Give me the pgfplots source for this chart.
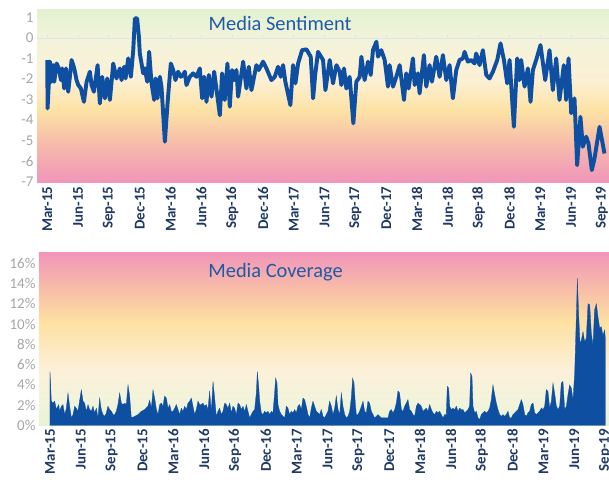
\documentclass[border=0pt]{standalone}
\usepackage{fontspec}
\setmainfont{Carlito}
\usepackage{pgfplots}
\pgfplotsset{compat=1.18}
\definecolor{pk}{HTML}{F095BA}
\definecolor{sal}{HTML}{F6B9AB}
\definecolor{yl}{HTML}{FDE2A4}
\definecolor{cr}{HTML}{FCF0D6}
\definecolor{cr2}{HTML}{F2F3DA}
\definecolor{gr}{HTML}{E3F1D1}
\definecolor{bgr}{HTML}{E8F3D4}
\definecolor{bcr2}{HTML}{F3F3DB}
\definecolor{bcr}{HTML}{FCF0D9}
\definecolor{byl}{HTML}{FDE1A2}
\definecolor{bsal}{HTML}{F8BFA7}
\definecolor{bpk}{HTML}{F196BA}
\definecolor{lineblue}{HTML}{0E4FA1}
\definecolor{titleblue}{HTML}{1F5AA6}
\definecolor{tickgray}{HTML}{A6A6A6}
\definecolor{navy}{HTML}{1F3864}
\definecolor{lightline}{HTML}{DCE6EA}
\pgfdeclareverticalshading{sentbg}{100bp}{color(0bp)=(pk); color(25bp)=(pk); color(36bp)=(sal); color(46bp)=(yl); color(55bp)=(cr); color(67bp)=(cr2); color(75bp)=(gr); color(100bp)=(gr)}
\pgfdeclareverticalshading{covbg}{100bp}{color(0bp)=(bgr); color(25bp)=(bgr); color(32.5bp)=(bcr2); color(41bp)=(bcr); color(55bp)=(byl); color(64bp)=(bsal); color(75bp)=(bpk); color(100bp)=(bpk)}
\pgfplotsset{
  common/.style={
    scale only axis,
    anchor=south west,
    axis line style={draw=none},
    major tick length=0pt,
    tick style={draw=none},
    xtick={0,3,...,54},
    xticklabels={Mar-15,Jun-15,Sep-15,Dec-15,Mar-16,Jun-16,Sep-16,Dec-16,Mar-17,Jun-17,Sep-17,Dec-17,Mar-18,Jun-18,Sep-18,Dec-18,Mar-19,Jun-19,Sep-19},
    xticklabel style={font=\fontsize{15}{15}\selectfont\bfseries, text=navy, rotate=90, anchor=east},
    yticklabel style={font=\fontsize{15}{15}\selectfont, text=tickgray},
    clip=false,
  }
}
\begin{document}
\begin{tikzpicture}
\useasboundingbox (0,0) rectangle (609bp,483bp);
\begin{axis}[common,
  at={(37bp,300bp)}, width=572bp, height=173bp,
  xmin=-1.0, xmax=54.69, ymin=-7.07, ymax=1.37,
  ytick={-7,-6,-5,-4,-3,-2,-1,0,1},
  yticklabels={-7,-6,-5,-4,-3,-2,-1,0,1},
  axis background/.style={shade, shading=sentbg},
]
\draw[lightline, line width=1bp] (axis cs:-1,0) -- (axis cs:54.69,0);
\pgfplotsinvokeforeach{0,3,...,54}{\draw[lightline, line width=1bp] (axis cs:#1,0) -- (axis cs:#1,0.17);}
\node[anchor=base west, text=titleblue, font=\fontsize{20.5}{20.5}\selectfont] at (rel axis cs:0.294,0.884) {Media Sentiment};
\addplot[color=lineblue, line width=3.9bp, line join=round, mark=none] coordinates {
(0.00,-1.07)(0.03,-3.43)(0.26,-1.15)(0.42,-2.13)(0.58,-1.32)(0.68,-2.13)(0.91,-1.24)(1.13,-1.48)(1.33,-2.05)(1.46,-1.48)(1.65,-2.46)(1.82,-1.48)(2.04,-2.62)(2.20,-1.89)(2.37,-1.07)(2.63,-1.48)(2.85,-2.05)(3.02,-2.29)(3.27,-2.46)(3.57,-3.11)(3.83,-2.13)(4.15,-1.64)(4.31,-2.29)(4.54,-2.62)(4.90,-1.32)(5.12,-3.19)(5.35,-1.89)(5.61,-2.94)(5.84,-1.97)(6.10,-3.02)(6.42,-1.24)(6.74,-1.97)(7.07,-1.48)(7.23,-2.05)(7.49,-1.40)(7.62,-1.97)(7.88,-0.99)(8.14,-1.89)(8.37,-0.59)(8.53,0.96)(8.75,0.96)(8.92,0.07)(9.01,-0.75)(9.34,-1.72)(9.50,-1.48)(9.73,-2.13)(9.92,-0.67)(10.15,-2.21)(10.41,-3.02)(10.54,-1.97)(10.73,-2.94)(10.96,-1.89)(11.12,-2.37)(11.45,-5.06)(11.71,-3.19)(11.84,-2.37)(12.03,-1.24)(12.26,-1.56)(12.48,-2.05)(12.74,-1.64)(13.00,-1.89)(13.23,-1.80)
(13.39,-1.64)(13.55,-2.29)(13.88,-1.89)(14.20,-1.72)(14.53,-1.89)(14.85,-1.48)(15.08,-2.94)(15.27,-1.89)(15.50,-3.11)(15.73,-1.80)(15.99,-2.86)(16.25,-1.64)(16.80,-3.76)(17.02,-1.72)(17.28,-3.02)(17.54,-1.24)(17.77,-3.35)(17.99,-1.56)(18.19,-2.05)(18.42,-1.56)(18.58,-2.86)(19.07,-1.15)(19.39,-2.46)(19.62,-1.40)(19.88,-2.54)(20.36,-1.32)(20.59,-1.56)(21.01,-1.15)(21.34,-1.48)(21.82,-2.05)(22.15,-1.89)(22.47,-1.40)(22.73,-1.89)(22.96,-1.32)(23.18,-2.13)(23.67,-3.27)(23.93,-1.32)(24.16,-2.21)(24.42,-1.24)(24.81,-0.59)(25.23,-0.55)(25.65,-0.91)(25.88,-2.94)(26.10,-1.72)(26.36,-0.67)(26.85,-1.07)
(27.08,-2.54)(27.50,-1.07)(27.82,-2.21)(28.15,-1.32)(28.47,-1.64)(28.63,-2.29)(28.89,-1.48)(29.12,-2.46)(29.44,-1.89)(29.80,-4.16)(30.09,-2.13)(30.42,-1.89)(30.58,-0.91)(30.90,-2.05)(31.23,-1.15)(31.49,-1.80)(31.71,-0.59)(32.04,-0.18)(32.20,-0.91)(32.52,-0.59)(32.85,-1.07)(33.17,-2.37)(33.33,-1.32)(33.66,-2.37)(33.98,-1.89)(34.31,-1.32)(34.73,-3.02)(34.95,-1.72)(35.18,-2.46)(35.60,-0.99)(35.77,-2.29)(36.09,-1.72)(36.25,-2.70)(36.67,-0.83)(36.90,-2.37)(37.22,-1.32)(37.45,-2.13)(37.87,-0.91)(38.20,-1.89)(38.52,-0.83)(38.85,-2.05)(39.17,-1.32)(39.49,-2.94)(39.82,-1.56)(40.14,-1.07)(40.47,-0.99)
(40.63,-0.67)(40.95,-1.15)(41.28,-1.07)(41.60,-1.24)(41.76,-0.75)(42.09,-1.32)(42.41,-0.59)(42.74,-1.80)(43.06,-1.97)(43.39,-1.64)(43.81,-1.07)(44.13,-0.26)(44.46,-1.07)(44.78,-2.21)(45.01,-1.07)(45.43,-4.33)(45.75,-0.99)(45.98,-2.05)(46.14,-1.07)(46.47,-2.37)(46.79,-1.48)(47.05,-3.11)(47.28,-1.56)(47.60,-1.07)(48.02,-0.34)(48.48,-2.05)(48.90,-0.59)(49.22,-2.54)(49.55,-0.99)(49.87,-3.02)(50.29,-1.32)(50.52,-3.02)(50.75,-0.99)(51.01,-3.67)(51.33,-2.94)(51.59,-6.20)(51.91,-3.84)(52.14,-5.30)(52.47,-4.81)(52.69,-5.14)(53.02,-6.44)(53.28,-5.87)(53.77,-4.33)(54.25,-5.63)
};
\end{axis}
\begin{axis}[common,
  at={(39bp,57.5bp)}, width=570bp, height=172.5bp,
  xmin=-1.07, xmax=54.38, ymin=0, ymax=17,
  ytick={0,2,4,6,8,10,12,14,16},
  yticklabels={0\%,2\%,4\%,6\%,8\%,10\%,12\%,14\%,16\%},
  axis background/.style={shade, shading=covbg},
]
\node[anchor=base west, text=titleblue, font=\fontsize{20.5}{20.5}\selectfont] at (rel axis cs:0.291,0.857) {Media Coverage};
\addplot[fill=lineblue, draw=lineblue, line width=0.3bp, mark=none] coordinates {
(0.00,5.3)(0.13,2.4)(0.29,2.2)(0.45,2.4)(0.62,1.6)(0.84,2.06)(0.94,1.4)(1.10,1.9)(1.26,2.06)(1.43,1.08)(1.59,1.7)(1.75,3.2)(1.91,1.9)(2.08,0.75)(2.24,1.08)(2.40,1.9)(2.56,1.7)(2.72,1.4)(2.89,2.5)(3.05,3.5)(3.21,2.4)(3.37,2.2)(3.53,1.4)(3.70,2.06)(3.86,1.57)(4.02,1.4)(4.18,1.9)(4.34,1.24)(4.51,1.7)(4.67,0.75)(4.83,2.7)(4.99,1.57)(5.16,1.08)(5.32,0.9)(5.48,1.24)(5.64,1.9)(5.80,1.57)(5.97,1.4)(6.13,1.08)(6.29,1.08)(6.45,1.4)(6.61,2.06)(6.78,3.2)(6.94,2.2)(7.10,2.06)(7.26,2.2)(7.42,2.06)(7.59,4.0)(7.75,2.9)(7.91,0.75)(8.24,0.9)(8.56,1.08)(8.88,1.4)(9.21,1.57)(9.53,1.9)(9.70,2.5)(9.86,1.7)(10.02,3.5)(10.18,2.7)(10.35,1.57)(10.51,1.08)(10.67,2.06)(10.83,2.2)(10.99,1.9)(11.15,2.9)(11.32,2.7)(11.48,1.7)(11.64,2.06)(11.80,1.4)(11.96,1.4)(12.13,1.7)(12.29,2.06)(12.45,1.57)(12.61,1.08)(12.78,1.7)
(12.94,1.4)(13.10,1.9)(13.26,1.57)(13.42,2.2)(13.59,2.4)(13.75,2.7)(13.91,1.9)(14.07,1.08)(14.23,1.57)(14.40,2.4)(14.56,2.06)(14.72,2.06)(14.88,2.2)(15.04,1.9)(15.21,2.06)(15.37,1.57)(15.53,3.4)(15.69,1.4)(15.86,4.35)(16.02,2.7)(16.18,0.9)(16.34,1.4)(16.50,1.7)(16.67,1.08)(16.83,1.4)(16.99,2.2)(17.15,2.06)(17.31,1.7)(17.48,2.2)(17.64,1.24)(17.80,1.9)(17.96,1.7)(18.12,1.08)(18.29,2.2)(18.45,2.06)(18.61,1.57)(18.77,1.9)(18.94,1.4)(19.10,2.06)(19.26,1.4)(19.42,0.75)(19.58,1.08)(19.75,1.4)(19.91,1.57)(20.07,3.2)(20.17,5.3)(20.30,3.85)(20.40,2.4)(20.56,1.24)(20.72,1.08)(20.88,1.4)(21.04,1.24)(21.21,1.4)(21.37,1.08)(21.53,1.4)(21.69,1.24)(21.85,3.2)(21.95,4.67)(22.08,4.2)(22.18,2.06)(22.34,1.4)(22.50,1.08)(22.83,0.75)(22.99,1.9)(23.15,1.7)(23.31,1.08)(23.47,1.4)(23.64,1.24)(23.80,1.57)(23.96,1.24)(24.12,1.9)(24.28,2.06)(24.45,1.57)(24.61,2.7)(24.77,2.55)(24.93,1.9)(25.10,1.08)(25.26,0.75)(25.42,1.7)(25.58,2.4)(25.74,1.9)(25.91,1.4)(26.07,1.24)(26.23,1.08)(26.39,1.57)(26.56,0.9)
(26.72,0.75)(26.88,1.08)(27.04,1.4)(27.20,2.4)(27.37,1.9)(27.53,1.08)(27.69,1.7)(27.85,2.9)(28.02,1.57)(28.18,1.08)(28.34,3.2)(28.50,1.9)(28.67,1.08)(28.83,0.75)(28.99,0.9)(29.15,1.4)(29.31,2.7)(29.44,4.67)(29.57,4.2)(29.70,2.2)(29.80,1.08)(29.96,1.08)(30.12,1.4)(30.29,1.9)(30.45,2.4)(30.61,1.4)(30.77,1.24)(30.93,2.4)(31.09,2.2)(31.26,1.4)(31.42,1.08)(31.58,0.75)(31.74,0.9)(31.91,1.08)(32.07,0.9)(32.23,0.75)(32.55,0.75)(32.88,0.75)(33.04,1.4)(33.20,1.57)(33.37,1.24)(33.53,1.57)(33.69,2.2)(33.85,3.4)(34.01,3.2)(34.18,1.57)(34.34,1.4)(34.50,1.9)(34.66,2.2)(34.82,2.55)(34.99,1.57)(35.15,1.4)(35.31,1.08)(35.47,0.9)(35.64,1.9)(35.80,2.2)(35.96,2.06)(36.12,1.9)(36.28,1.4)(36.45,1.57)(36.61,1.7)(36.77,1.4)(36.93,2.06)(37.10,1.57)(37.26,1.24)(37.42,1.08)(37.58,1.4)(37.74,1.24)(37.91,1.4)(38.07,1.08)(38.23,0.75)(38.39,1.08)(38.55,1.08)(38.65,3.85)(38.78,3.7)(38.88,1.9)(39.04,1.57)(39.20,1.7)(39.37,1.57)(39.53,1.9)(39.69,1.4)(39.85,1.7)(40.01,1.57)
(40.18,1.57)(40.34,1.24)(40.50,1.4)(40.66,1.57)(40.82,1.9)(40.92,5.16)(41.05,4.84)(41.15,1.9)(41.31,1.24)(41.47,1.4)(41.64,0.75)(41.80,0.6)(41.96,1.08)(42.12,1.24)(42.28,1.4)(42.45,1.24)(42.61,1.4)(42.77,1.73)(42.93,2.55)(43.09,4.0)(43.26,3.04)(43.42,2.2)(43.58,1.57)(43.74,1.08)(43.91,0.9)(44.07,1.08)(44.23,0.9)(44.39,1.08)(44.55,1.4)(44.72,0.75)(44.88,0.75)(45.04,1.08)(45.20,1.24)(45.36,1.4)(45.53,1.57)(45.69,2.06)(45.85,2.55)(46.01,2.06)(46.18,1.08)(46.34,0.9)(46.50,1.24)(46.66,1.4)(46.82,2.06)(46.99,2.2)(47.15,1.24)(47.31,1.08)(47.47,1.24)(47.63,1.4)(47.80,1.73)(47.96,1.57)(48.12,1.9)(48.28,3.53)(48.44,3.37)(48.61,1.73)(48.77,2.4)(48.93,4.18)(49.09,3.2)(49.26,1.9)(49.42,1.57)(49.58,1.9)(49.74,4.18)(49.90,4.35)(50.07,1.57)(50.23,1.9)(50.39,3.04)(50.55,4.0)(50.71,3.7)(50.88,2.55)(51.04,5.16)(51.20,10.7)(51.30,14.5)(51.43,10.9)(51.56,8.1)(51.69,8.4)(51.85,9.25)(52.01,8.27)(52.17,8.6)(52.34,12.0)(52.50,11.9)(52.66,9.1)(52.82,7.94)(52.98,11.4)(53.15,12.0)(53.31,10.7)(53.47,9.6)(53.63,9.74)(53.79,8.9)(53.96,9.4)(54.02,8.6)
} \closedcycle;
\end{axis}
\end{tikzpicture}
\end{document}
